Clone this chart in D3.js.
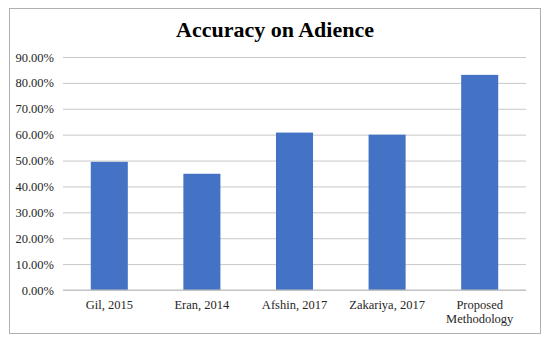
<!DOCTYPE html>
<html>
<head>
<meta charset="utf-8">
<script src="https://cdn.jsdelivr.net/npm/d3@7"></script>
<style>
  body { margin: 0; background: #fff; }
  text { font-family: "Liberation Serif", "Times New Roman", serif; }
</style>
</head>
<body>
<div class="chart"></div>
<script>
const w = 550;
const h = 338;

// data
const categories = ["Gil, 2015", "Eran, 2014", "Afshin, 2017", "Zakariya, 2017", "Proposed Methodology"];
const accuracy = [0.495, 0.449, 0.608, 0.600, 0.831];
const yTicks = [0, 0.1, 0.2, 0.3, 0.4, 0.5, 0.6, 0.7, 0.8, 0.9];

const margin = {top: 57, right: 24, bottom: 48, left: 63};

const svg = d3.select(".chart").append("svg")
    .attr("width", w)
    .attr("height", h);

// outer frame
svg.append("rect")
    .attr("x", 9.5).attr("y", 8.5)
    .attr("width", 531).attr("height", 325)
    .attr("fill", "#fff")
    .attr("stroke", "#b0b0b0");

svg.append("text")
    .attr("x", 275).attr("y", 37)
    .attr("text-anchor", "middle")
    .style("font-size", "22px")
    .style("font-weight", "bold")
    .attr("fill", "#000")
    .text("Accuracy on Adience");

const x = d3.scaleBand()
    .domain(categories)
    .range([margin.left, w - margin.right])
    .paddingInner(0.6)
    .paddingOuter(0.3);

const y = d3.scaleLinear()
    .domain([0, 0.9])
    .range([h - margin.bottom, margin.top]);

// gridlines + left axis
const yAxis = svg.append("g")
    .attr("transform", `translate(${margin.left},0)`)
    .call(d3.axisLeft(y).tickValues(yTicks)
        .tickFormat(d3.format(".2%"))
        .tickSize(-(w - margin.left - margin.right))
        .tickPadding(9));
yAxis.select(".domain").remove();
yAxis.attr("font-family", null).attr("font-size", null);
yAxis.selectAll("line").attr("stroke", "#c8c8c8");
yAxis.selectAll("text")
    .style("font-size", "12.5px")
    .attr("fill", "#262626");

svg.selectAll(".bar")
    .data(accuracy)
    .enter()
    .append("rect")
    .attr("class", "bar")
    .attr("x", (d, i) => x(categories[i]))
    .attr("width", x.bandwidth())
    .attr("y", d => y(d))
    .attr("height", d => y(0) - y(d))
    .attr("fill", "#4472C4");

// baseline
svg.append("line")
    .attr("x1", margin.left).attr("x2", w - margin.right)
    .attr("y1", y(0)).attr("y2", y(0))
    .attr("stroke", "#bfbfbf");

// category labels, wrap the long one
const labels = svg.selectAll(".xlab")
    .data(categories)
    .enter()
    .append("text")
    .attr("class", "xlab")
    .attr("text-anchor", "middle")
    .style("font-size", "12.5px")
    .attr("fill", "#262626")
    .attr("x", d => x(d) + x.bandwidth() / 2)
    .attr("y", y(0) + 19);

labels.each(function(d) {
  const words = d === "Proposed Methodology" ? ["Proposed", "Methodology"] : [d];
  const t = d3.select(this);
  words.forEach((wd, k) => {
    t.append("tspan")
      .attr("x", x(d) + x.bandwidth() / 2)
      .attr("dy", k === 0 ? 0 : 13.5)
      .text(wd);
  });
});
</script>
</body>
</html>
